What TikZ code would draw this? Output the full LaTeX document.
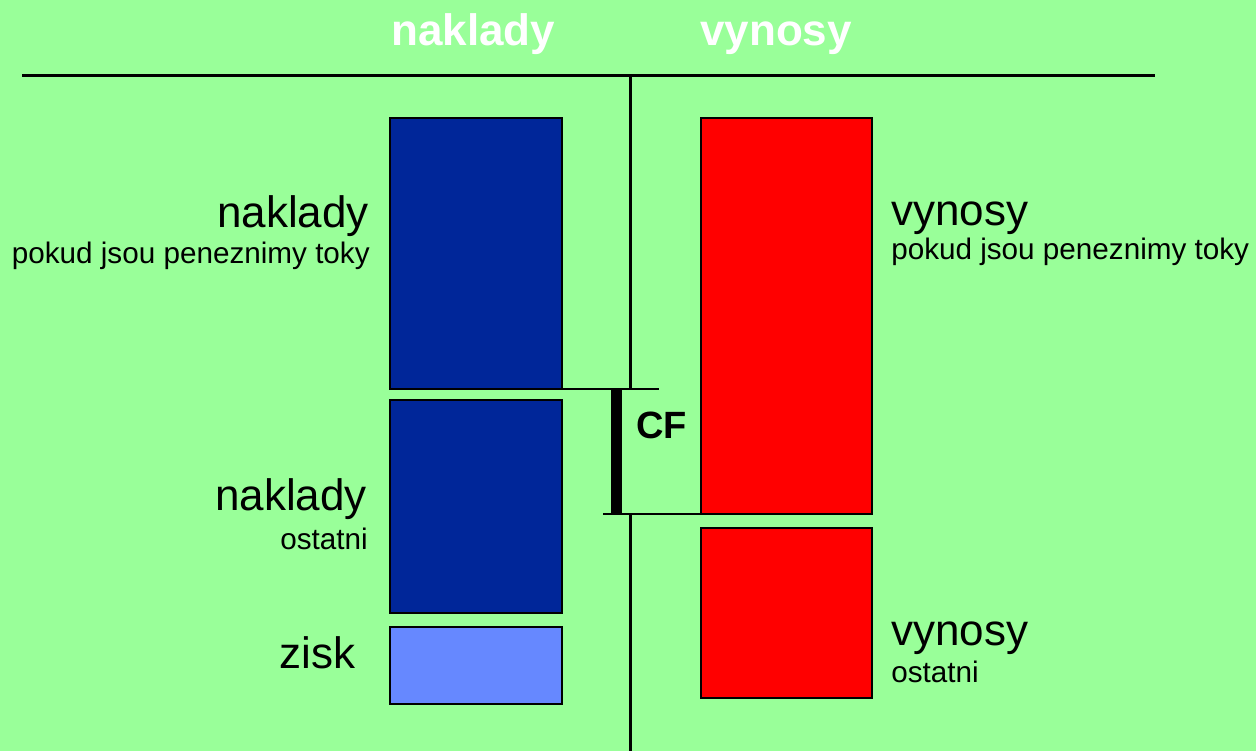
\documentclass[tikz,border=0pt]{standalone}
\usepackage{fontspec}
\setmainfont{Liberation Sans}
\definecolor{bg}{RGB}{153,255,153}
\definecolor{dblue}{RGB}{0,38,153}
\definecolor{lblue}{RGB}{102,136,255}
\begin{document}
\begin{tikzpicture}[x=0.75pt,y=-0.75pt,
  box/.style={draw=black, line width=1.6pt, inner sep=0, outer sep=0},
  big/.style={font=\fontsize{33}{36}\selectfont, inner sep=0},
  small/.style={font=\fontsize{22.25}{25}\selectfont, inner sep=0},
  head/.style={font=\bfseries\fontsize{33}{36}\selectfont, text=white, inner sep=0},
  cflab/.style={font=\bfseries\fontsize{28.5}{32}\selectfont, inner sep=0},
  rulethick/.style={line width=2.25pt},
  thin/.style={line width=1.5pt},
  bar/.style={line width=8.25pt}]
\fill[bg] (0,0) rectangle (1256,751);
\useasboundingbox (0,0) rectangle (1256,751);
% headers
\node[head, anchor=base west] (hn) at (391,45) {naklady};
\node[head, anchor=base west] (hv) at (700,45) {vynosy};
% rules
\coordinate (tl) at (22,75);
\coordinate (tr) at (1155,75);
\coordinate (vt) at (630,75);
\coordinate (vm1) at (630,389);
\coordinate (vm2) at (630,514);
\coordinate (vb) at (630,751);
\draw[rulethick] (tl) -- (tr);
\draw[rulethick] (vt) -- (vm1);
\draw[rulethick] (vm2) -- (vb);
% boxes
\node[box, fill=dblue, minimum width=129pt, minimum height=203.25pt] (b1) at (476,253.5) {};
\node[box, fill=dblue, minimum width=129pt, minimum height=159.75pt] (b2) at (476,506.5) {};
\node[box, fill=lblue, minimum width=129pt, minimum height=57.75pt] (b3) at (476,665.5) {};
\node[box, fill=red, minimum width=128.25pt, minimum height=297pt] (r1) at (786.5,316) {};
\node[box, fill=red, minimum width=128.25pt, minimum height=127.5pt] (r2) at (786.5,613) {};
% CF bracket
\coordinate (cft) at (659,389);
\coordinate (cfb) at (603,514);
\coordinate (bart) at (616.5,389);
\coordinate (barb) at (616.5,514);
\draw[thin] (b1.south east) -- (cft);
\draw[thin] (cfb) -- (r1.south west);
\draw[bar] (bart) -- (barb);
\node[cflab, anchor=base west] (cf) at (636,438) {CF};
% labels left
\node[big, anchor=base east] (l1) at (369,227) {naklady};
\node[small, anchor=base east] (l1s) at (370,263) {pokud jsou peneznimy toky};
\node[big, anchor=base east] (l2) at (367,510) {naklady};
\node[small, anchor=base east] (l2s) at (368,549) {ostatni};
\node[big, anchor=base west] (l3) at (279,668) {zisk};
% labels right
\node[big, anchor=base west] (rl1) at (891,225) {vynosy};
\node[small, anchor=base west] (rl1s) at (891,259) {pokud jsou peneznimy toky};
\node[big, anchor=base west] (rl2) at (891,645) {vynosy};
\node[small, anchor=base west] (rl2s) at (891,682) {ostatni};
\end{tikzpicture}
\end{document}
